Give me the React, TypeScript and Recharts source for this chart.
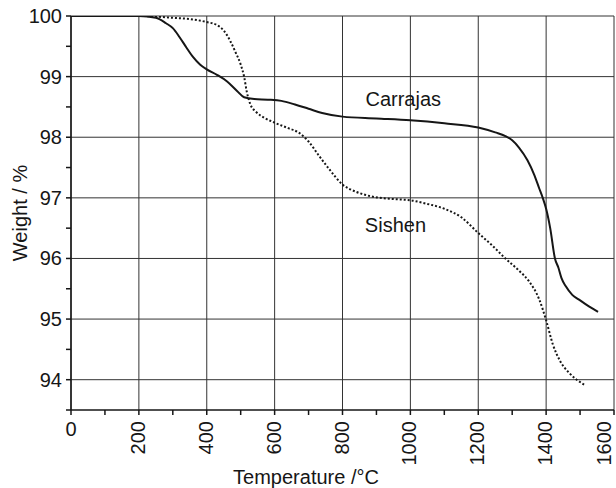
import { LineChart, Line, XAxis, YAxis, ReferenceLine, ReferenceDot } from "recharts";

const FONT = "'Liberation Sans', Arial, sans-serif";
const INK = "#161616";

// temperature (°C) / weight (%)
const carrajasT = [0, 100, 200, 250, 280, 300, 320, 340, 360, 380, 400, 430, 460, 490, 510, 540, 580, 620, 660, 700, 740, 800, 900, 1000, 1100, 1200, 1250, 1280, 1300, 1320, 1345, 1365, 1380, 1390, 1400, 1412, 1426, 1436, 1445, 1458, 1477, 1497, 1526, 1553];
const carrajasW = [100, 100, 100, 99.97, 99.88, 99.8, 99.65, 99.48, 99.32, 99.2, 99.12, 99.03, 98.92, 98.76, 98.66, 98.63, 98.62, 98.6, 98.54, 98.47, 98.4, 98.34, 98.31, 98.28, 98.23, 98.16, 98.08, 98.02, 97.95, 97.83, 97.62, 97.38, 97.15, 97.0, 96.82, 96.5, 96.0, 95.85, 95.68, 95.54, 95.4, 95.32, 95.21, 95.12];

const sishenT = [0, 100, 200, 250, 300, 350, 400, 430, 450, 470, 485, 500, 510, 518, 528, 545, 570, 600, 640, 670, 700, 730, 760, 800, 840, 880, 950, 1000, 1050, 1100, 1150, 1200, 1240, 1280, 1320, 1350, 1380, 1400, 1420, 1440, 1470, 1490, 1512];
const sishenW = [100, 100, 100, 99.99, 99.97, 99.95, 99.9, 99.85, 99.76, 99.58, 99.4, 99.2, 99.0, 98.75, 98.55, 98.42, 98.32, 98.24, 98.15, 98.08, 97.93, 97.7, 97.48, 97.22, 97.1, 97.03, 96.98, 96.96, 96.9, 96.82, 96.68, 96.42, 96.22, 96.0, 95.8, 95.62, 95.32, 94.98, 94.58, 94.32, 94.1, 94.0, 93.92];

const xTicks = [0, 100, 200, 300, 400, 500, 600, 700, 800, 900, 1000, 1100, 1200, 1300, 1400, 1500, 1600];
const xMajor = [0, 200, 400, 600, 800, 1000, 1200, 1400, 1600];
const yTicks = [93.5, 94, 94.5, 95, 95.5, 96, 96.5, 97, 97.5, 98, 98.5, 99, 99.5, 100];
const yMajor = [94, 95, 96, 97, 98, 99, 100];

const carrajas = carrajasT.map((t, i) => ({ t, w: carrajasW[i] }));
const sishen = sishenT.map((t, i) => ({ t, w: sishenW[i] }));

function XTick({ x, y, payload }: any) {
  const v = payload.value;
  if (v % 200 !== 0) return <g />;
  if (v === 0) {
    return (
      <text x={x} y={y + 19} textAnchor="middle" fontSize={20} fontFamily={FONT} fill={INK}>
        {v}
      </text>
    );
  }
  // keep the last label inside the picture
  const bx = Math.min(x + 6, 611);
  return (
    <text
      transform={`translate(${bx},${y + 4}) rotate(-90)`}
      textAnchor="end"
      fontSize={20}
      fontFamily={FONT}
      fill={INK}
    >
      {v}
    </text>
  );
}

function YTick({ x, y, payload }: any) {
  const v = payload.value;
  if (!Number.isInteger(v)) return <g />;
  return (
    <text x={x - 2} y={y + 7} textAnchor="end" fontSize={20} fontFamily={FONT} fill={INK}>
      {v}
    </text>
  );
}

export default function App() {
  return (
    <div style={{ position: "absolute", left: 0, top: 0, background: "#fff" }}>
      <LineChart width={616} height={488} margin={{ top: 16, right: 2, left: 0, bottom: 0 }}>
        <XAxis
          type="number"
          dataKey="t"
          domain={[0, 1600]}
          ticks={xTicks}
          interval={0}
          height={78}
          tickSize={5}
          stroke={INK}
          strokeWidth={1.5}
          tick={<XTick />}
          label={{
            content: (p: any) => {
              const vb = p.viewBox || { x: 71, y: 410, width: 543, height: 78 };
              return (
                <text x={vb.x + 235} y={vb.y + 74} textAnchor="middle" fontSize={20} fontFamily={FONT} fill={INK}>
                  Temperature /°C
                </text>
              );
            },
          }}
        />
        <YAxis
          type="number"
          dataKey="w"
          domain={[93.5, 100]}
          ticks={yTicks}
          interval={0}
          width={71}
          tickSize={5}
          stroke={INK}
          strokeWidth={1.5}
          allowDataOverflow
          tick={<YTick />}
          label={{
            content: (p: any) => {
              const vb = p.viewBox || { x: 0, y: 16, width: 71, height: 394 };
              const cx = vb.x + 20;
              const cy = vb.y + vb.height / 2;
              return (
                <text
                  transform={`translate(${cx + 7},${cy}) rotate(-90)`}
                  textAnchor="middle"
                  fontSize={20}
                  fontFamily={FONT}
                  fill={INK}
                >
                  Weight / %
                </text>
              );
            },
          }}
        />
        {xMajor.map((v) => (
          <ReferenceLine key={"x" + v} x={v} stroke="#333" strokeWidth={1} />
        ))}
        {yMajor.map((v) => (
          <ReferenceLine key={"y" + v} y={v} stroke="#333" strokeWidth={1} />
        ))}
        <Line
          data={sishen}
          dataKey="w"
          type="monotone"
          stroke={INK}
          strokeWidth={2}
          strokeDasharray="2 2"
          dot={false}
          isAnimationActive={false}
        />
        <Line
          data={carrajas}
          dataKey="w"
          type="monotone"
          stroke={INK}
          strokeWidth={2}
          dot={false}
          isAnimationActive={false}
        />
        <ReferenceDot
          x={979}
          y={98.64}
          r={0}
          stroke="none"
          label={{ value: "Carrajas", position: "center", fontSize: 20, fontFamily: FONT, fill: INK }}
        />
        <ReferenceDot
          x={956}
          y={96.55}
          r={0}
          stroke="none"
          label={{ value: "Sishen", position: "center", fontSize: 20, fontFamily: FONT, fill: INK }}
        />
      </LineChart>
    </div>
  );
}
